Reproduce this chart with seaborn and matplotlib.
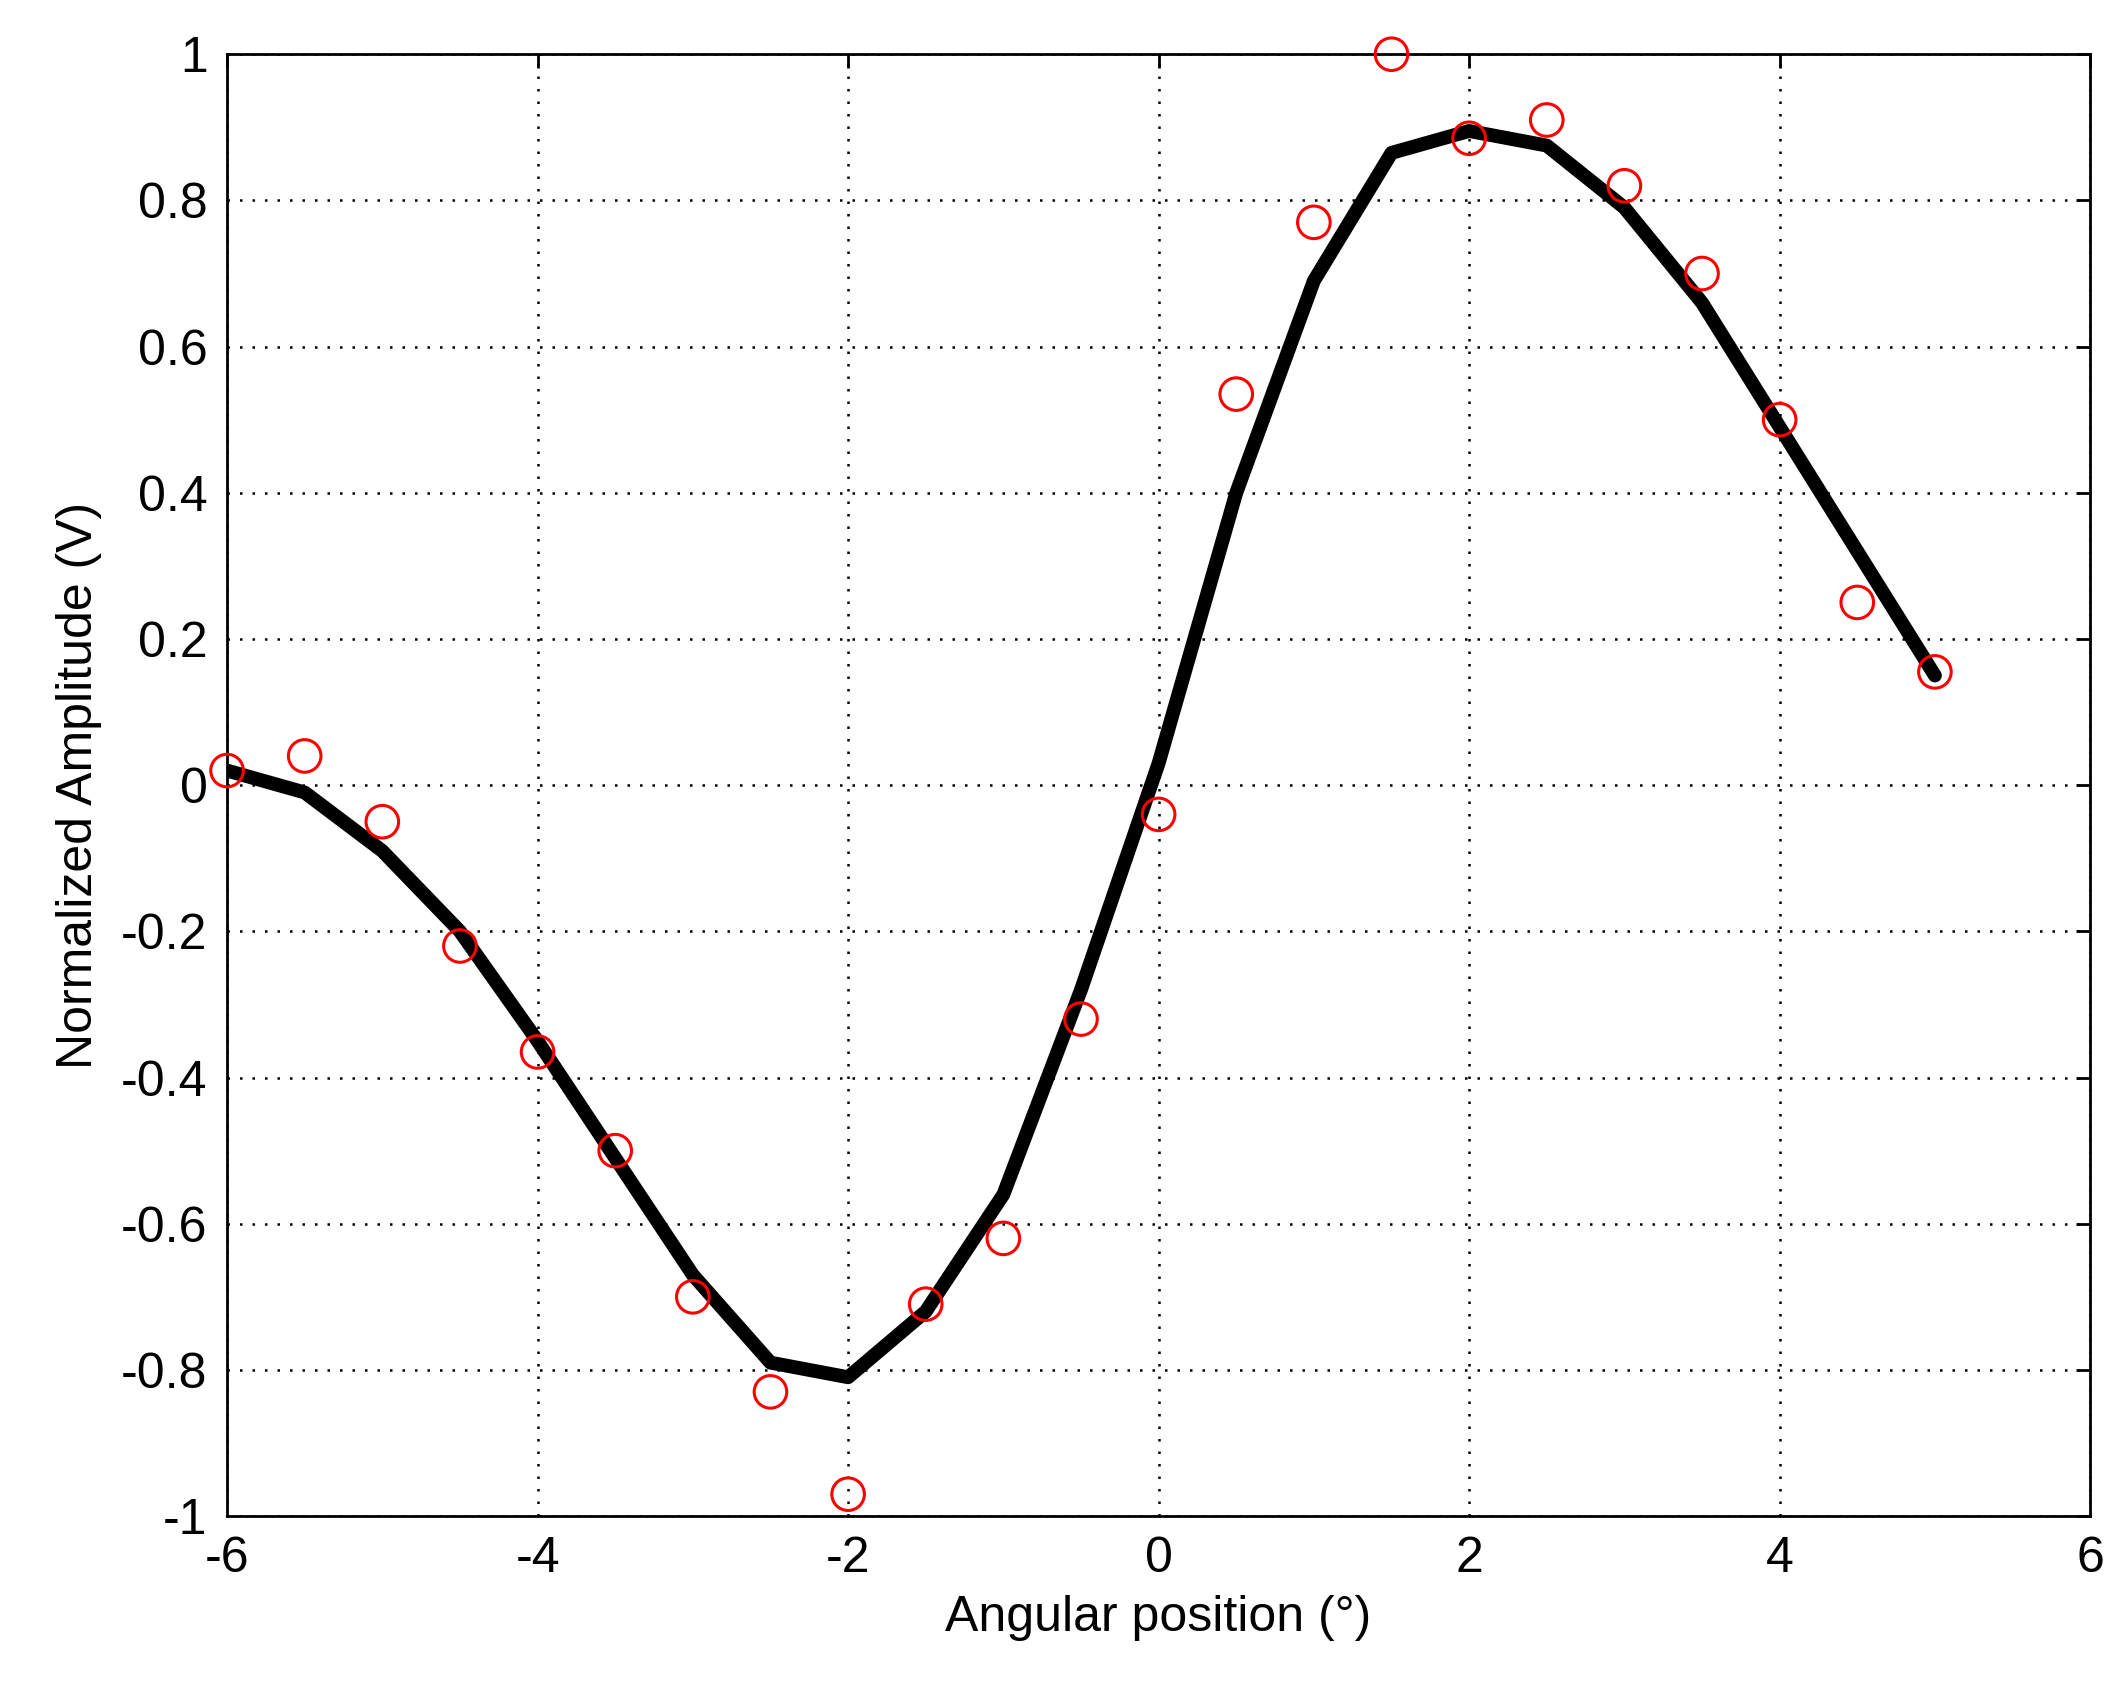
import matplotlib
matplotlib.use("Agg")
import matplotlib.pyplot as plt
import seaborn as sns
import pandas as pd

# angular positions (deg)
angle = [-6, -5.5, -5, -4.5, -4, -3.5, -3, -2.5, -2, -1.5, -1, -0.5,
         0, 0.5, 1, 1.5, 2, 2.5, 3, 3.5, 4, 4.5, 5]
measured = [0.02, 0.04, -0.05, -0.22, -0.365, -0.50, -0.70, -0.83, -0.97, -0.71, -0.62, -0.32,
            -0.04, 0.535, 0.77, 1.0, 0.885, 0.91, 0.82, 0.70, 0.50, 0.25, 0.155]
fitted = [0.02, -0.01, -0.09, -0.20, -0.35, -0.51, -0.67, -0.79, -0.81, -0.72, -0.56, -0.28,
          0.03, 0.40, 0.69, 0.865, 0.895, 0.875, 0.79, 0.66, 0.49, 0.32, 0.15]
xticks = [-6, -4, -2, 0, 2, 4, 6]
yticks = [-1, -0.8, -0.6, -0.4, -0.2, 0, 0.2, 0.4, 0.6, 0.8, 1]

df = pd.DataFrame(dict(angle=angle, measured=measured, fitted=fitted))

sns.set_style("white")
plt.rcParams['font.family'] = ['Liberation Sans', 'DejaVu Sans']
plt.rcParams['axes.unicode_minus'] = False
plt.rcParams['text.color'] = 'black'

fig = plt.figure(figsize=(21.22, 16.94), dpi=100)
ax = fig.add_axes([0.107, 0.105, 0.878, 0.863])

sns.lineplot(data=df, x="angle", y="fitted", color="black", linewidth=10, ax=ax)
sns.scatterplot(data=df, x="angle", y="measured", marker="o", s=550,
                facecolors="none", edgecolor="red", linewidth=2.2, ax=ax,
                zorder=3, clip_on=False)

ax.set_xlim(-6, 6)
ax.set_ylim(-1, 1)
ax.set_xticks(xticks)
ax.set_xticklabels([f"{v:g}" for v in xticks])
ax.set_yticks(yticks)
ax.set_yticklabels([f"{v:g}" for v in yticks])
ax.grid(True, color="black", linestyle=(0, (1, 4)), linewidth=1.8)
for s in ax.spines.values():
    s.set_color("black")
    s.set_linewidth(2)
ax.tick_params(labelsize=36, direction="in", length=10, width=2, top=True, right=True,
               colors="black", pad=14)
ax.set_xlabel("Angular position (°)", fontsize=36, color="black", labelpad=10)
ax.set_ylabel("Normalized Amplitude (V)", fontsize=36, color="black", labelpad=14)

fig.savefig("out.png", dpi=100)
